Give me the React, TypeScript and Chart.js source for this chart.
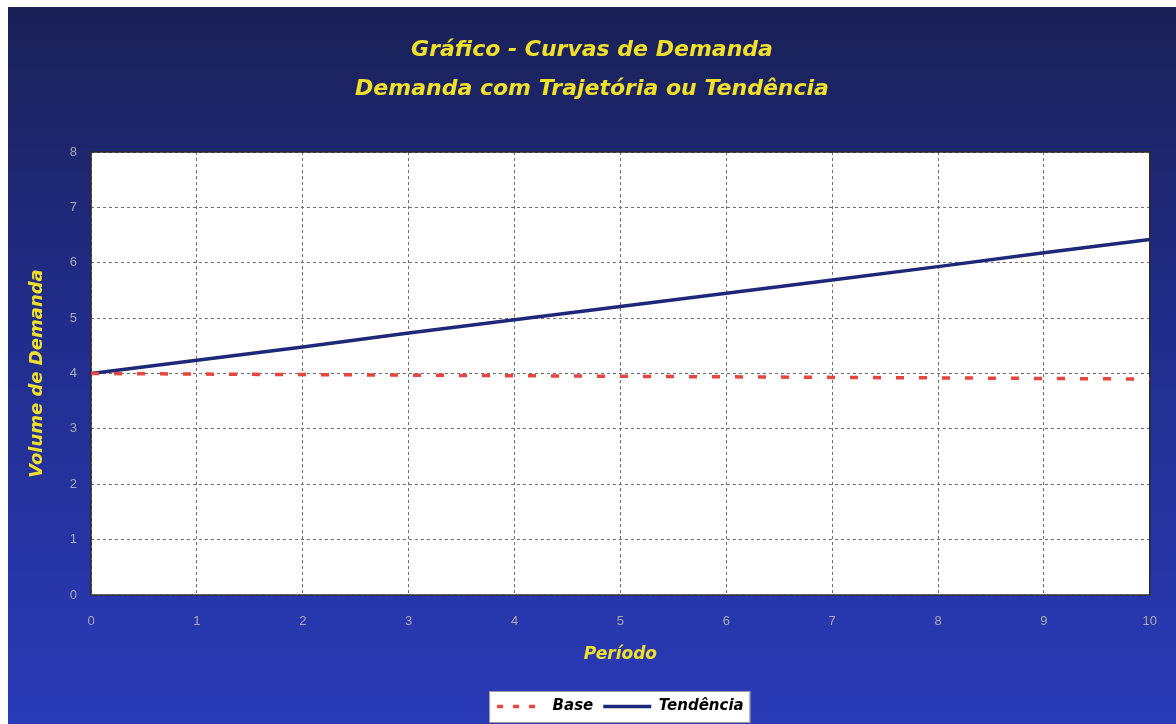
import React, { useEffect, useRef } from "react";
import { Chart, registerables } from "chart.js";

Chart.register(...registerables);

const periods: number[] = [0, 1, 2, 3, 4, 5, 6, 7, 8, 9, 10];
const baseValues: number[] = [4.0, 3.99, 3.98, 3.97, 3.96, 3.95, 3.94, 3.93, 3.92, 3.91, 3.9];
const trendValues: number[] = [4.0, 4.24, 4.48, 4.73, 4.97, 5.21, 5.45, 5.69, 5.93, 6.18, 6.42];
const titleLines: string[] = ["Gráfico - Curvas de Demanda", "Demanda com Trajetória ou Tendência"];
const xTitle = "Período";
const yTitle = "Volume de Demanda";
const seriesNames: string[] = ["Base", "Tendência"];

const YELLOW = "#f0e02c";
const TICK = "#a7abb0";
const FONT = "'DejaVu Sans', Verdana, sans-serif";

const bgPlugin = {
  id: "bgPlugin",
  beforeDraw(chart: any) {
    const { ctx, width, height, chartArea: a } = chart;
    ctx.save();
    const g = ctx.createLinearGradient(0, 0, 0, height);
    g.addColorStop(0, "#1a2156");
    g.addColorStop(0.45, "#212d8c");
    g.addColorStop(1, "#2a3bb8");
    ctx.fillStyle = g;
    ctx.fillRect(0, 0, width, height);
    ctx.fillStyle = "#ffffff";
    ctx.fillRect(a.left, a.top, a.right - a.left, a.bottom - a.top);
    const hb = chart.legend && chart.legend.legendHitBoxes;
    if (hb && hb.length) {
      let l = Infinity, r = -Infinity, t = Infinity, b = -Infinity;
      hb.forEach((h: any) => {
        l = Math.min(l, h.left);
        r = Math.max(r, h.left + h.width);
        t = Math.min(t, h.top);
        b = Math.max(b, h.top + h.height);
      });
      ctx.fillStyle = "#ffffff";
      ctx.fillRect(l - 8, t - 8, r - l + 14, b - t + 16);
      ctx.strokeStyle = "#9a9a9a";
      ctx.lineWidth = 1;
      ctx.strokeRect(l - 8 + 0.5, t - 8 + 0.5, r - l + 14, b - t + 16);
    }
    ctx.restore();
  },
  beforeDatasetsDraw(chart: any) {
    const { ctx, chartArea: a } = chart;
    ctx.save();
    ctx.strokeStyle = "#2a2a2a";
    ctx.lineWidth = 1.5;
    ctx.setLineDash([]);
    ctx.strokeRect(a.left, a.top, a.right - a.left, a.bottom - a.top);
    ctx.restore();
  },
};

export default function App() {
  const ref = useRef<HTMLCanvasElement | null>(null);

  useEffect(() => {
    if (!ref.current) return;
    const defaultLabels = (Chart as any).defaults.plugins.legend.labels.generateLabels;
    const chart = new Chart(ref.current, {
      type: "line",
      data: {
        datasets: [
          {
            label: seriesNames[0],
            data: periods.map((p, i) => ({ x: p, y: baseValues[i] })),
            borderColor: "#e8453c",
            backgroundColor: "#e8453c",
            borderWidth: 3.5,
            borderDash: [8, 15],
            pointRadius: 0,
            fill: false,
          },
          {
            label: seriesNames[1],
            data: periods.map((p, i) => ({ x: p, y: trendValues[i] })),
            borderColor: "#1e2878",
            backgroundColor: "#1e2878",
            borderWidth: 3.5,
            pointRadius: 0,
            fill: false,
          },
        ],
      },
      options: {
        responsive: false,
        animation: false,
        layout: { padding: 0 },
        plugins: {
          title: {
            display: true,
            text: titleLines,
            color: YELLOW,
            font: { family: FONT, size: 22, weight: "bold", style: "italic", lineHeight: 39 / 22 },
            padding: { top: 24, bottom: 43 },
          },
          legend: {
            display: true,
            position: "bottom",
            fullSize: false,
            labels: {
              usePointStyle: true,
              pointStyle: "line",
              pointStyleWidth: 48,
              color: "#000000",
              padding: 10,
              font: { family: FONT, size: 15, weight: "bold", style: "italic" },
              generateLabels(ch: any) {
                const items = defaultLabels(ch);
                items.forEach((it: any) => {
                  const ds = ch.data.datasets[it.datasetIndex];
                  it.strokeStyle = ds.borderColor;
                  it.lineWidth = 3.5;
                  it.lineDash = ds.borderDash ? [6, 10] : [];
                });
                return items;
              },
            },
          },
          tooltip: { enabled: false },
        },
        scales: {
          x: {
            type: "linear",
            min: 0,
            max: 10,
            ticks: {
              stepSize: 1,
              color: TICK,
              padding: 19,
              font: { family: "'Liberation Sans', Arial, sans-serif", size: 13 },
            },
            grid: { color: "#6f6f6f", lineWidth: 1, drawTicks: false },
            border: { display: false, dash: [3, 3] },
            title: {
              display: true,
              text: xTitle,
              color: YELLOW,
              font: { family: FONT, size: 17, weight: "bold", style: "italic" },
              padding: { top: 0, bottom: 24 },
            },
            afterFit(scale: any) {
              scale.height = 94;
            },
          },
          y: {
            min: 0,
            max: 8,
            ticks: {
              stepSize: 1,
              color: TICK,
              padding: 14,
              font: { family: "'Liberation Sans', Arial, sans-serif", size: 13 },
            },
            grid: { color: "#6f6f6f", lineWidth: 1, drawTicks: false },
            border: { display: false, dash: [3, 3] },
            title: {
              display: true,
              text: yTitle,
              color: YELLOW,
              font: { family: FONT, size: 18, weight: "bold", style: "italic" },
              padding: { top: 19, bottom: 0 },
            },
            afterFit(scale: any) {
              scale.width = 83;
            },
          },
          yRight: {
            position: "right",
            min: 0,
            max: 8,
            display: true,
            grid: { display: false, drawTicks: false },
            ticks: { display: false },
            border: { display: false },
            afterFit(scale: any) {
              scale.width = 25;
            },
          },
        },
      } as any,
      plugins: [bgPlugin],
    });
    return () => chart.destroy();
  }, []);

  return (
    <div style={{ position: "fixed", left: 8, top: 7, width: 1168, height: 717 }}>
      <canvas ref={ref} width={1168} height={717} style={{ display: "block" }} />
    </div>
  );
}
